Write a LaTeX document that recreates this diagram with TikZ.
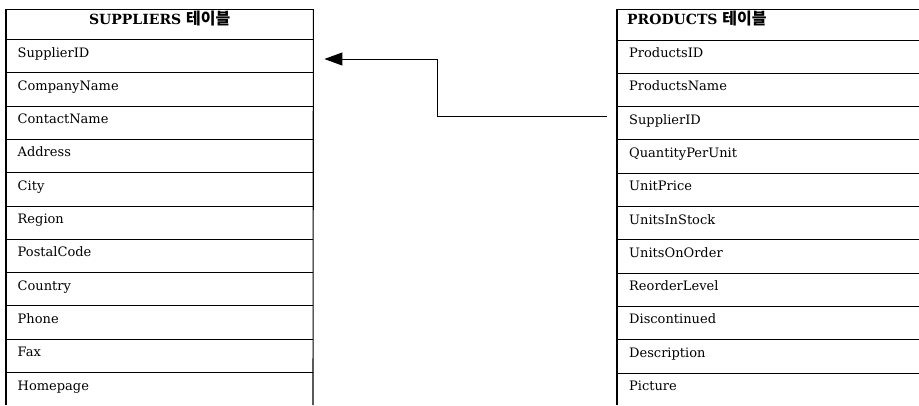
\documentclass[tikz,border=0pt]{standalone}
\usepackage{fontspec}
\setmainfont{DejaVu Serif}
\newfontfamily\kr{Noto Sans CJK KR}
\usetikzlibrary{arrows.meta}
\begin{document}
\begin{tikzpicture}[x=1pt,y=-1pt,
  hline/.style={line width=0.9pt},
  vline/.style={line width=1.1pt},
  lrow/.style={minimum width=307pt, minimum height=33.3pt, inner sep=0pt, anchor=north west},
  rrow/.style={minimum width=302pt, minimum height=33.3pt, inner sep=0pt, anchor=north west},
  lhead/.style={minimum width=307pt, minimum height=30.5pt, inner sep=0pt, anchor=north west},
  rhead/.style={minimum width=302pt, minimum height=31pt, inner sep=0pt, anchor=north west},
  celltext/.style={anchor=base west, inner sep=0pt, font=\fontsize{13}{15}\selectfont},
  headtext/.style={inner sep=0pt, font=\fontsize{14}{16}\selectfont\bfseries},
  fk/.style={line width=0.9pt, -{Triangle[length=18pt,width=13pt]}}
]
\path[use as bounding box] (0,0) rectangle (919,405);
% ---------- SUPPLIERS table ----------
\node[lhead] (sh) at (6,9) {};
\node[headtext, anchor=base] (sht) at ([yshift=-15.5pt]sh.north) {SUPPLIERS {\kr\fontsize{16}{18}\selectfont 테이블}};
\foreach \t [count=\i] in {SupplierID,CompanyName,ContactName,Address,City,Region,PostalCode,Country,Phone,Fax,Homepage}{
  \node[lrow] (s\i) at (6,{39.5+(\i-1)*33.3}) {};
  \node[celltext] (st\i) at ([xshift=11.5pt,yshift=-17.5pt]s\i.north west) {\t};
  \draw[hline] (s\i.north west) -- (s\i.north east);
}
\draw[hline] (sh.north west) -- (sh.north east);
\draw[vline] (sh.north west) -- (6,405);
\draw[vline] (sh.north east) -- (313,405);
% ---------- PRODUCTS table ----------
\node[rhead] (ph) at (617,9) {};
\node[headtext, anchor=base west] (pht) at ([xshift=10pt,yshift=-15.5pt]ph.north west) {PRODUCTS {\kr\fontsize{16}{18}\selectfont 테이블}};
\foreach \t [count=\i] in {ProductsID,ProductsName,SupplierID,QuantityPerUnit,UnitPrice,UnitsInStock,UnitsOnOrder,ReorderLevel,Discontinued,Description,Picture}{
  \node[rrow] (p\i) at (617,{40+(\i-1)*33.3}) {};
  \node[celltext] (pt\i) at ([xshift=12pt,yshift=-17.5pt]p\i.north west) {\t};
  \draw[hline] (p\i.north west) -- (p\i.north east);
}
\draw[hline] (ph.north west) -- (ph.north east);
\draw[vline] (ph.north west) -- (617,405);
% ---------- relationship ----------
\coordinate (pa) at ([xshift=-10pt,yshift=-10pt]p3.north west);
\coordinate (sa) at ([xshift=11pt,yshift=-19.5pt]s1.north east);
\coordinate (bend) at (437,0);
\draw[fk] (pa) -- (pa -| bend) |- (sa);
\end{tikzpicture}
\end{document}
